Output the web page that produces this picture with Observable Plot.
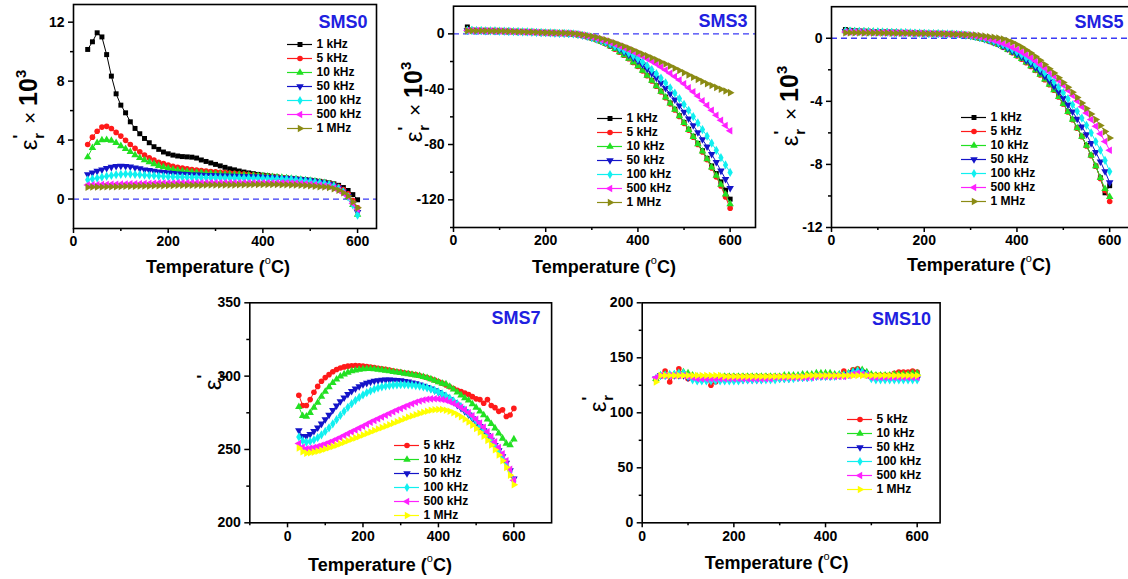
<!DOCTYPE html>
<html><head><meta charset="utf-8">
<script src="https://cdn.jsdelivr.net/npm/d3@7"></script>
<script src="https://cdn.jsdelivr.net/npm/@observablehq/plot@0.6"></script>
<style>
body{margin:0;background:#fff;}
#root{position:relative;width:1128px;height:579px;overflow:hidden;font-family:"Liberation Sans",Arial,sans-serif;color:#000;}
.xt{position:absolute;transform:translate(-50%,-50%);font-weight:bold;font-size:18px;white-space:nowrap;}
.xt sup{font-size:11px;font-weight:normal;position:relative;top:-2px;}
.yt{position:absolute;transform:translate(-50%,-50%) rotate(-90deg);white-space:nowrap;line-height:1;}
.eps{font-size:24px;}
.pr{position:relative;top:-12px;left:1px;font-weight:bold;font-size:16px;}
.rr{position:relative;top:7px;left:-3px;font-weight:bold;font-size:15px;}
.tm{font-size:21px;}
.ten{font-size:25px;font-weight:bold;}
.th{font-size:15px;font-weight:bold;position:relative;top:-11px;}
</style>
</head><body><div id="root"></div>
<script>
// ---------------- data ----------------
const temps = [30,40,50,60,70,80,90,100,110,120,130,140,150,160,170,180,190,200,210,220,230,240,250,260,270,280,290,300,310,320,330,340,350,360,370,380,390,400,410,420,430,440,450,460,470,480,490,500,510,520,530,540,550,560,570,580,590,600];
const freqs7 = ["1 kHz","5 kHz","10 kHz","50 kHz","100 kHz","500 kHz","1 MHz"];
const freqs6 = ["5 kHz","10 kHz","50 kHz","100 kHz","500 kHz","1 MHz"];

// SMS0 (ε'r × 10^3)
const sms0_1k = [10.15,10.67,11.28,11.0,9.8,8.34,7.14,6.37,5.85,5.24,4.79,4.43,4.11,3.82,3.55,3.37,3.19,3.07,2.98,2.92,2.88,2.86,2.84,2.78,2.65,2.55,2.45,2.35,2.25,2.15,2.05,1.98,1.9,1.83,1.77,1.72,1.67,1.62,1.58,1.54,1.5,1.46,1.43,1.4,1.37,1.34,1.31,1.28,1.24,1.2,1.15,1.1,1.03,0.93,0.78,0.58,0.3,-0.05];
const sms0_5k = [3.7,4.2,4.6,4.88,4.93,4.79,4.52,4.27,3.98,3.7,3.44,3.21,2.98,2.8,2.64,2.5,2.4,2.3,2.22,2.15,2.1,2.05,2.0,1.97,1.93,1.9,1.87,1.85,1.82,1.8,1.77,1.74,1.72,1.69,1.66,1.63,1.6,1.58,1.55,1.52,1.49,1.45,1.42,1.39,1.35,1.32,1.28,1.25,1.21,1.17,1.11,1.05,0.97,0.85,0.65,0.35,-0.1,-0.6];
const sms0_10k = [2.85,3.48,3.82,4.0,4.02,3.96,3.82,3.6,3.4,3.2,2.98,2.8,2.64,2.5,2.38,2.26,2.16,2.08,2.0,1.95,1.9,1.86,1.82,1.79,1.77,1.75,1.73,1.71,1.7,1.68,1.67,1.66,1.65,1.63,1.61,1.59,1.57,1.55,1.53,1.5,1.48,1.45,1.42,1.39,1.36,1.32,1.29,1.25,1.2,1.15,1.09,1.02,0.93,0.75,0.5,0.15,-0.4,-1.05];
const sms0_50k = [1.67,1.78,1.9,2.0,2.1,2.17,2.23,2.25,2.23,2.2,2.13,2.07,2.0,1.95,1.9,1.86,1.82,1.78,1.75,1.72,1.7,1.68,1.66,1.65,1.64,1.62,1.61,1.6,1.59,1.58,1.57,1.56,1.55,1.54,1.53,1.52,1.51,1.5,1.48,1.46,1.44,1.42,1.4,1.38,1.35,1.32,1.29,1.25,1.2,1.15,1.08,1.0,0.9,0.75,0.5,0.2,-0.3,-0.9];
const sms0_100k = [1.3,1.36,1.42,1.49,1.55,1.6,1.65,1.68,1.7,1.69,1.67,1.65,1.62,1.6,1.58,1.56,1.54,1.52,1.51,1.5,1.49,1.48,1.47,1.47,1.46,1.46,1.45,1.45,1.45,1.44,1.44,1.43,1.43,1.42,1.42,1.41,1.41,1.4,1.39,1.38,1.37,1.36,1.35,1.33,1.3,1.27,1.24,1.2,1.15,1.1,1.05,0.98,0.88,0.72,0.48,0.15,-0.4,-1.1];
const sms0_500k = [0.95,0.96,0.97,0.98,0.99,1.0,1.0,1.01,1.02,1.03,1.04,1.04,1.05,1.06,1.07,1.08,1.08,1.09,1.09,1.1,1.1,1.1,1.1,1.1,1.1,1.1,1.1,1.1,1.1,1.1,1.1,1.1,1.1,1.1,1.1,1.1,1.1,1.1,1.1,1.1,1.1,1.1,1.1,1.09,1.08,1.06,1.03,1.0,0.97,0.93,0.89,0.85,0.75,0.6,0.4,0.15,-0.3,-0.7];
const sms0_1M = [0.8,0.81,0.82,0.82,0.83,0.84,0.84,0.85,0.86,0.86,0.87,0.88,0.88,0.89,0.9,0.9,0.91,0.92,0.92,0.93,0.93,0.93,0.94,0.94,0.94,0.95,0.95,0.95,0.95,0.96,0.96,0.96,0.97,0.97,0.97,0.98,0.98,0.98,0.98,0.98,0.98,0.97,0.97,0.96,0.95,0.93,0.92,0.9,0.87,0.84,0.81,0.78,0.7,0.6,0.42,0.2,-0.2,-0.6];

// SMS3 (ε'r × 10^3)
const sms3_1k = [5.0,2.6,2.4,2.3,2.2,2.2,2.1,2.0,1.9,1.8,1.7,1.6,1.5,1.4,1.25,1.1,0.95,0.8,0.65,0.5,0.35,0.2,0.0,-0.3,-0.7,-1.3,-2.1,-3.0,-4.2,-5.5,-7.0,-8.8,-10.8,-13.0,-15.3,-17.8,-20.4,-23.2,-26.5,-30.0,-33.7,-37.5,-41.5,-45.7,-50.0,-54.5,-59.2,-64.0,-69.0,-74.0,-79.2,-84.5,-90.0,-95.5,-101.0,-107.0,-113.0,-119.5];
const sms3_5k = [3.0,2.6,2.4,2.3,2.2,2.2,2.1,2.0,1.9,1.8,1.7,1.6,1.5,1.4,1.25,1.1,0.95,0.8,0.65,0.5,0.35,0.2,0.0,-0.3,-0.7,-1.3,-2.1,-3.1,-4.3,-5.6,-7.1,-8.9,-11.0,-13.2,-15.5,-18.0,-20.7,-23.5,-26.8,-30.3,-34.0,-37.9,-42.0,-46.2,-50.6,-55.1,-59.8,-64.7,-69.7,-74.8,-80.0,-85.4,-91.0,-97.0,-103.5,-110.0,-118.0,-126.0];
const sms3_10k = [2.8,2.6,2.4,2.3,2.2,2.2,2.1,2.0,1.9,1.8,1.7,1.6,1.5,1.4,1.25,1.1,0.95,0.8,0.65,0.5,0.35,0.2,0.0,-0.3,-0.7,-1.3,-2.1,-3.0,-4.2,-5.5,-7.0,-8.8,-10.9,-13.1,-15.4,-17.9,-20.5,-23.3,-26.6,-30.1,-33.8,-37.7,-41.7,-45.9,-50.3,-54.8,-59.5,-64.3,-69.3,-74.4,-79.6,-85.0,-90.5,-96.5,-102.5,-109.0,-116.0,-123.0];
const sms3_50k = [2.5,2.5,2.4,2.3,2.2,2.2,2.1,2.0,1.9,1.8,1.7,1.6,1.5,1.4,1.25,1.1,0.95,0.8,0.65,0.5,0.4,0.3,0.2,0.0,-0.4,-1.1,-1.9,-2.8,-3.9,-5.1,-6.4,-7.9,-9.5,-11.3,-13.2,-15.2,-17.3,-19.5,-22.3,-25.3,-28.5,-31.9,-35.5,-39.3,-43.3,-47.5,-51.9,-56.5,-61.3,-66.2,-71.2,-76.3,-81.5,-87.0,-92.8,-99.0,-105.0,-111.5];
const sms3_100k = [2.5,2.5,2.4,2.3,2.2,2.2,2.1,2.0,1.9,1.8,1.7,1.6,1.5,1.4,1.25,1.1,0.95,0.8,0.65,0.5,0.4,0.3,0.2,0.0,-0.4,-1.0,-1.7,-2.6,-3.6,-4.7,-5.9,-7.3,-8.8,-10.4,-12.1,-13.9,-15.9,-18.0,-20.4,-23.0,-25.8,-28.8,-32.0,-35.4,-39.0,-42.8,-46.8,-51.0,-55.3,-59.8,-64.4,-69.2,-74.0,-79.0,-84.2,-89.5,-94.8,-100.2];
const sms3_500k = [2.5,2.5,2.4,2.3,2.2,2.2,2.1,2.0,1.9,1.8,1.7,1.6,1.5,1.4,1.3,1.15,1.0,0.85,0.7,0.6,0.5,0.45,0.4,0.1,-0.3,-0.9,-1.5,-2.3,-3.2,-4.2,-5.2,-6.3,-7.5,-8.8,-10.1,-11.5,-13.0,-14.5,-16.2,-18.0,-19.8,-21.8,-24.0,-26.2,-28.5,-30.9,-33.4,-36.0,-38.9,-41.9,-45.0,-48.3,-51.7,-55.2,-58.8,-62.5,-66.2,-70.0];
const sms3_1M = [2.3,2.3,2.3,2.2,2.2,2.1,2.1,2.0,1.9,1.8,1.7,1.6,1.5,1.4,1.3,1.2,1.05,0.9,0.8,0.7,0.6,0.55,0.5,0.2,-0.2,-0.7,-1.2,-1.8,-2.5,-3.3,-4.2,-5.3,-6.5,-7.7,-9.0,-10.3,-11.7,-13.1,-14.5,-15.9,-17.3,-18.8,-20.3,-21.8,-23.3,-24.9,-26.5,-28.1,-29.7,-31.3,-32.9,-34.5,-36.1,-37.4,-38.7,-40.0,-41.3,-42.5];

// SMS5 (ε'r × 10^3)
const sms5_1k = [0.55,0.5,0.48,0.46,0.45,0.44,0.43,0.42,0.41,0.4,0.39,0.38,0.37,0.36,0.35,0.34,0.33,0.32,0.31,0.3,0.29,0.28,0.27,0.26,0.24,0.21,0.17,0.12,0.06,0.0,-0.08,-0.17,-0.28,-0.4,-0.55,-0.72,-0.9,-1.1,-1.3,-1.52,-1.76,-2.02,-2.3,-2.6,-2.92,-3.26,-3.7,-4.15,-4.65,-5.15,-5.68,-6.22,-6.8,-7.42,-8.1,-8.85,-9.8,-9.35];
const sms5_5k = [0.45,0.45,0.45,0.44,0.44,0.43,0.42,0.41,0.4,0.39,0.38,0.37,0.36,0.35,0.34,0.33,0.32,0.31,0.3,0.3,0.29,0.28,0.27,0.26,0.24,0.21,0.17,0.12,0.06,0.0,-0.08,-0.17,-0.28,-0.4,-0.55,-0.72,-0.92,-1.12,-1.33,-1.55,-1.79,-2.05,-2.33,-2.63,-2.95,-3.3,-3.72,-4.17,-4.67,-5.17,-5.7,-6.25,-6.83,-7.45,-8.12,-8.9,-9.65,-10.35];
const sms5_10k = [0.45,0.45,0.45,0.44,0.44,0.43,0.42,0.41,0.4,0.39,0.38,0.37,0.36,0.35,0.34,0.33,0.32,0.31,0.3,0.3,0.29,0.28,0.27,0.26,0.24,0.21,0.17,0.12,0.06,0.0,-0.08,-0.17,-0.28,-0.4,-0.55,-0.72,-0.91,-1.11,-1.31,-1.53,-1.77,-2.03,-2.31,-2.61,-2.93,-3.28,-3.71,-4.16,-4.66,-5.16,-5.69,-6.23,-6.81,-7.43,-8.11,-8.85,-9.55,-10.05];
const sms5_50k = [0.45,0.45,0.44,0.43,0.42,0.41,0.4,0.4,0.39,0.38,0.37,0.36,0.36,0.35,0.34,0.33,0.32,0.31,0.3,0.3,0.29,0.28,0.27,0.26,0.24,0.22,0.19,0.15,0.1,0.03,-0.05,-0.14,-0.24,-0.36,-0.5,-0.65,-0.82,-1.0,-1.19,-1.4,-1.62,-1.86,-2.12,-2.4,-2.7,-3.03,-3.4,-3.8,-4.22,-4.66,-5.12,-5.6,-6.1,-6.65,-7.22,-7.82,-8.45,-9.15];
const sms5_100k = [0.45,0.45,0.44,0.43,0.42,0.41,0.4,0.4,0.39,0.38,0.37,0.36,0.36,0.35,0.34,0.33,0.32,0.31,0.3,0.3,0.29,0.28,0.27,0.26,0.25,0.23,0.2,0.17,0.12,0.06,-0.01,-0.09,-0.18,-0.29,-0.41,-0.55,-0.7,-0.87,-1.05,-1.25,-1.46,-1.69,-1.93,-2.19,-2.47,-2.77,-3.1,-3.45,-3.83,-4.22,-4.63,-5.06,-5.52,-6.0,-6.55,-7.1,-7.75,-8.45];
const sms5_500k = [0.4,0.4,0.4,0.39,0.38,0.38,0.37,0.37,0.36,0.36,0.35,0.35,0.34,0.34,0.33,0.32,0.32,0.31,0.3,0.3,0.29,0.28,0.27,0.26,0.25,0.24,0.21,0.18,0.14,0.08,0.02,-0.05,-0.13,-0.22,-0.33,-0.45,-0.58,-0.72,-0.88,-1.05,-1.24,-1.44,-1.66,-1.89,-2.14,-2.4,-2.68,-2.98,-3.3,-3.63,-3.98,-4.35,-4.74,-5.15,-5.58,-6.05,-6.55,-7.1];
const sms5_1M = [0.35,0.35,0.35,0.35,0.34,0.34,0.34,0.33,0.33,0.33,0.32,0.32,0.32,0.31,0.31,0.3,0.3,0.3,0.29,0.29,0.28,0.28,0.27,0.26,0.25,0.24,0.23,0.22,0.2,0.17,0.14,0.1,0.06,0.01,-0.05,-0.14,-0.26,-0.4,-0.56,-0.74,-0.94,-1.16,-1.4,-1.66,-1.93,-2.21,-2.5,-2.8,-3.11,-3.43,-3.76,-4.1,-4.45,-4.8,-5.16,-5.53,-5.92,-6.33];

// SMS7 (ε'r)
const sms7_5k = [287,280,280,284,289,293,296.5,299,301,303,304.5,305.5,306.3,306.8,307.1,307.2,307.1,306.9,306.6,306.2,305.8,305.4,305,304.6,304.1,303.6,303.1,302.7,302.3,301.9,301.5,301,300.4,299.8,299,298.2,297.3,296.3,295.2,294,292.8,291.6,290.4,289.5,288.5,287.5,286,284.5,284,281.5,284,280,278.5,276,277,272.5,273.5,278];
const sms7_10k = [279,273,272.5,275,278.5,282,286,289.5,292.5,295.5,297.8,299.8,301.3,302.5,303.4,304,304.5,304.8,305,305,304.8,304.5,304.2,303.8,303.4,303,302.6,302.2,301.8,301.4,301,300.6,300.2,299.5,298.8,298,297,296,295,294.5,292.8,291,289,287,285,283.5,281,278.5,276,273.5,270.5,267.5,264.5,261,257.5,254,253,257];
const sms7_50k = [263,259,259,260.5,262.5,264.8,267.5,270.5,273.5,276.8,279.8,282.7,285.3,287.7,289.8,291.5,293,294.3,295.3,296.1,296.7,297.1,297.4,297.5,297.5,297.4,297.2,297,296.6,296.2,295.6,295,294.2,293.4,292.5,291.4,290.3,289,287.5,285.9,284.2,282.3,280.3,278.2,276,273.7,271.2,268.5,265.8,262.9,259.8,256.5,253,249.3,245.3,240.8,235.7,230];
const sms7_100k = [258.5,256,255,255.5,256.5,258,260,262.3,264.8,267.5,270.3,273.2,276,278.7,281.2,283.5,285.5,287.2,288.7,290,291.1,292,292.7,293.2,293.6,293.9,294.1,294.2,294.2,294.1,293.9,293.6,293.2,292.7,292,291.2,290.3,289.2,287.9,286.5,285,283.2,281.3,279.2,277,274.6,272.1,269.4,266.5,263.5,260.3,256.9,253.3,249.3,245,240.3,235,228.5];
const sms7_500k = [254,251.5,250.5,250.8,251.3,252,252.8,253.7,254.7,255.8,257,258.2,259.5,260.8,262,263.3,264.6,265.9,267.2,268.5,269.8,271,272.2,273.3,274.5,275.7,276.9,278,279.1,280.2,281.2,282.2,283,283.7,284.2,284.5,284.6,284.5,284.1,283.5,282.6,281.5,280.2,278.7,277,275.1,273,270.6,268,265.2,262.1,258.8,255.2,251.3,247,242.3,236.5,229];
const sms7_1M = [251,248.5,247.5,247.7,248.2,248.8,249.5,250.3,251.1,252,252.9,253.9,254.9,255.9,256.9,257.9,258.9,259.9,260.9,261.9,262.9,263.9,264.9,265.9,266.9,267.9,268.9,269.9,270.9,271.9,272.8,273.7,274.6,275.4,276.1,276.7,277.1,277.3,277.2,276.8,276.1,275.1,273.8,272.3,270.6,268.7,266.6,264.3,261.8,259.1,256.2,253.1,249.8,246.2,242.3,237.8,232.5,226];

// SMS10 (ε'r)
const sms10_5k = [130,133,138,128,134,140,135,131,133,132,133,131,125,128,132,133,133,133,133,133,133,133,133,133,133,133,133,133,133,133,133,133,133,133,133,134,134,134,134,134,134,138,135,139,140,138,136,134,134,134,134,134,136,137,137,137,138,137];
const sms10_10k = [131,134,135,134,135,136,137,136,134,133,132,132,131,132,133,133,133,133,133,133,133,133,133,133,133,133,133,133,134,134,134,134,135,135,135,136,136,136,136,135,135,135,136,138,139,139,137,135,134,134,134,134,135,135,135,135,136,136];
const sms10_50k = [131,134,134,134,134,134,134,132,131,130,130,130,130,130,130,130,130,130,130,130,130,130,130,130,131,131,131,131,131,131,132,132,132,132,133,133,133,133,133,134,134,134,135,137,138,137,135,132,131,131,131,131,131,131,131,131,131,131];
const sms10_100k = [131,134,134,135,135,136,136,133,130,129,129,129,129,129,129,129,129,129,129,130,130,130,130,130,130,130,130,131,131,131,131,132,132,132,132,133,133,133,133,133,134,134,135,137,138,137,135,131,130,130,130,130,130,130,130,130,130,130];
const sms10_500k = [132,134,134,134,134,134,134,133,132,131,131,131,131,131,131,131,131,131,131,131,131,131,131,131,131,131,132,132,132,132,132,132,132,132,132,133,133,133,133,133,133,133,134,135,136,135,134,132,132,132,132,132,132,132,132,132,132,132];
const sms10_1M = [128,134,134,134,134,134,134,134,134,134,134,134,134,134,134,133,133,133,133,133,133,133,133,133,133,133,133,133,133,133,133,133,133,134,134,134,134,134,134,134,134,134,134,134,134,134,134,134,134,134,134,134,134,134,134,134,134,134];

// ---------------- styling ----------------
const R3 = Math.sqrt(3);
function tri(angle){return {draw(ctx,size){const R=2*Math.sqrt(size/(3*R3));for(let k=0;k<3;k++){const a=angle+k*2*Math.PI/3;const x=R*Math.cos(a),y=R*Math.sin(a);if(k)ctx.lineTo(x,y);else ctx.moveTo(x,y);}ctx.closePath();}};}
const SYM = {"1 kHz":"square","5 kHz":"circle","10 kHz":tri(-Math.PI/2),"50 kHz":tri(Math.PI/2),"100 kHz":"diamond","500 kHz":tri(Math.PI),"1 MHz":tri(0)};
const COL = {"1 kHz":"#000000","5 kHz":"#ff1a1a","10 kHz":"#22e022","50 kHz":"#1414c8","100 kHz":"#10f0f0","500 kHz":"#ff20ff","1 MHz":"#8b8b14"};
const COL_Y = Object.assign({}, COL, {"1 MHz":"#ffff00"});
const FONT = "'Liberation Sans', Arial, sans-serif";
const BLUE = "#2020e0";

const panels = [
  {name:"SMS0", left:0, top:0, width:380, height:250, mL:73, mR:4, mT:4, mB:22,
   xDomain:[0,640], yDomain:[-2,13.2], xMaj:[0,200,400,600], xMin:[100,300,500], yMaj:[0,4,8,12], yMin:[2,6,10],
   zero:true, tdx:-9, tdy:11, labels:freqs7, colors:COL,
   values:[sms0_1k,sms0_5k,sms0_10k,sms0_50k,sms0_100k,sms0_500k,sms0_1M],
   legend:{left:284.7, top:36.3, step:14.33},
   xt:[218,267], yt:[28,110], big:true},
  {name:"SMS3", left:380, top:0, width:378, height:250, mL:73, mR:3, mT:5.7, mB:23,
   xDomain:[0,655], yDomain:[-140,20], xMaj:[0,200,400,600], xMin:[100,300,500], yMaj:[-120,-80,-40,0], yMin:[-140,-100,-60,-20],
   zero:true, tdx:-8, tdy:8, labels:freqs7, colors:COL,
   values:[sms3_1k,sms3_5k,sms3_10k,sms3_50k,sms3_100k,sms3_500k,sms3_1M],
   legend:{left:595.3, top:110.3, step:14.23},
   xt:[604,267], yt:[413,102], big:true},
  {name:"SMS5", left:760, top:0, width:380, height:250, mL:71, mR:3, mT:6.2, mB:23,
   xDomain:[0,660], yDomain:[-12,2], xMaj:[0,200,400,600], xMin:[100,300,500], yMaj:[-12,-8,-4,0], yMin:[-10,-6,-2],
   zero:true, tdx:-14, tdy:9, labels:freqs7, colors:COL,
   values:[sms5_1k,sms5_5k,sms5_10k,sms5_50k,sms5_100k,sms5_500k,sms5_1M],
   legend:{left:959, top:109, step:14.28},
   xt:[979,265], yt:[789,106], big:true},
  {name:"SMS7", left:200, top:290, width:360, height:260, mL:49.3, mR:8.9, mT:12.3, mB:27.7,
   xDomain:[-100,700], yDomain:[200,350], xMaj:[0,200,400,600], xMin:[-100,100,300,500], yMaj:[200,250,300,350], yMin:[225,275,325],
   zero:false, tdx:-11, tdy:8, labels:freqs6, colors:COL_Y,
   values:[sms7_5k,sms7_10k,sms7_50k,sms7_100k,sms7_500k,sms7_1M],
   legend:{left:392.3, top:437, step:14.26},
   xt:[380,565], yt:[213,380], big:false},
  {name:"SMS10", left:570, top:290, width:380, height:260, mL:71.7, mR:10.4, mT:12.3, mB:27.7,
   xDomain:[0,650], yDomain:[0,200], xMaj:[0,200,400,600], xMin:[100,300,500], yMaj:[0,50,100,150,200], yMin:[25,75,125,175],
   zero:false, tdx:-9, tdy:9.5, labels:freqs6, colors:COL_Y,
   values:[sms10_5k,sms10_10k,sms10_50k,sms10_100k,sms10_500k,sms10_1M],
   legend:{left:845.3, top:410.7, step:14.3},
   xt:[776.7,563], yt:[598,402], big:false}
];

const root = document.getElementById("root");
const place = (el, left, top) => { el.style.position = "absolute"; el.style.left = left + "px"; el.style.top = top + "px"; root.appendChild(el); };
const R = 2.8;

for (const p of panels) {
  const marks = [];
  if (p.zero) marks.push(Plot.ruleY([0], {stroke:"#3a3af5", strokeWidth:1.3, strokeDasharray:"6,4"}));
  p.labels.forEach((lab, k) => {
    const rows = temps.map((t, i) => ({t, v: p.values[k][i]}));
    marks.push(Plot.line(rows, {x:"t", y:"v", stroke:p.colors[lab], strokeWidth:1}));
    marks.push(Plot.dot(rows, {x:"t", y:"v", fill:p.colors[lab], stroke:"none", r:R, symbol:SYM[lab]}));
  });
  marks.push(Plot.frame({stroke:"#000", strokeWidth:1.6}));
  marks.push(Plot.axisX({ticks:p.xMaj, tickSize:5, tickPadding:3, tickFormat:d => String(d), label:null, strokeWidth:1.5}));
  marks.push(Plot.axisX({ticks:p.xMin, tickSize:3, tickFormat:() => "", label:null, strokeWidth:1.5}));
  marks.push(Plot.axisY({ticks:p.yMaj, tickSize:5, tickPadding:4, tickFormat:d => String(d), label:null, strokeWidth:1.5}));
  marks.push(Plot.axisY({ticks:p.yMin, tickSize:3, tickFormat:() => "", label:null, strokeWidth:1.5}));
  marks.push(Plot.text([p.name], {frameAnchor:"top-right", text:d => d, dx:p.tdx, dy:p.tdy, textAnchor:"end", lineAnchor:"top", fill:BLUE, fontSize:18, fontWeight:"bold"}));
  const svg = Plot.plot({
    width:p.width, height:p.height, marginLeft:p.mL, marginRight:p.mR, marginTop:p.mT, marginBottom:p.mB,
    x:{domain:p.xDomain}, y:{domain:p.yDomain},
    style:{fontFamily:FONT, fontSize:"14px", fontWeight:"bold", color:"#000", background:"transparent", overflow:"visible"},
    marks
  });
  place(svg, p.left, p.top);

  // legend
  const n = p.labels.length, st = p.legend.step;
  const lmarks = [];
  p.labels.forEach(lab => {
    lmarks.push(Plot.ruleY([lab], {y:d => d, x1:2, x2:27, stroke:p.colors[lab], strokeWidth:1.2}));
    lmarks.push(Plot.dot([lab], {x:() => 14.5, y:d => d, fill:p.colors[lab], stroke:"none", r:R, symbol:SYM[lab]}));
  });
  lmarks.push(Plot.text(p.labels, {x:() => 31, y:d => d, text:d => d, textAnchor:"start", fontSize:12, fontWeight:"bold", fill:"#000"}));
  const leg = Plot.plot({
    width:110, height:Math.round(n*st + 6), margin:0,
    x:{domain:[0,110], range:[0,110], axis:null},
    y:{type:"point", domain:p.labels, range:[7, 7 + (n-1)*st], padding:0, axis:null},
    style:{fontFamily:FONT, background:"transparent", overflow:"visible"},
    marks:lmarks
  });
  place(leg, p.legend.left, p.legend.top);

  // axis titles
  const xt = document.createElement("div");
  xt.className = "xt";
  xt.innerHTML = "Temperature (<sup>o</sup>C)";
  xt.style.left = p.xt[0] + "px"; xt.style.top = p.xt[1] + "px";
  root.appendChild(xt);
  const yt = document.createElement("div");
  yt.className = "yt";
  yt.innerHTML = '<span class="eps">ε</span><span class="pr">\'</span><span class="rr">r</span>' +
    (p.big ? '<span class="tm"> × </span><span class="ten">10</span><span class="th">3</span>' : '');
  yt.style.left = p.yt[0] + "px"; yt.style.top = p.yt[1] + "px";
  root.appendChild(yt);
}
</script>
</body></html>
